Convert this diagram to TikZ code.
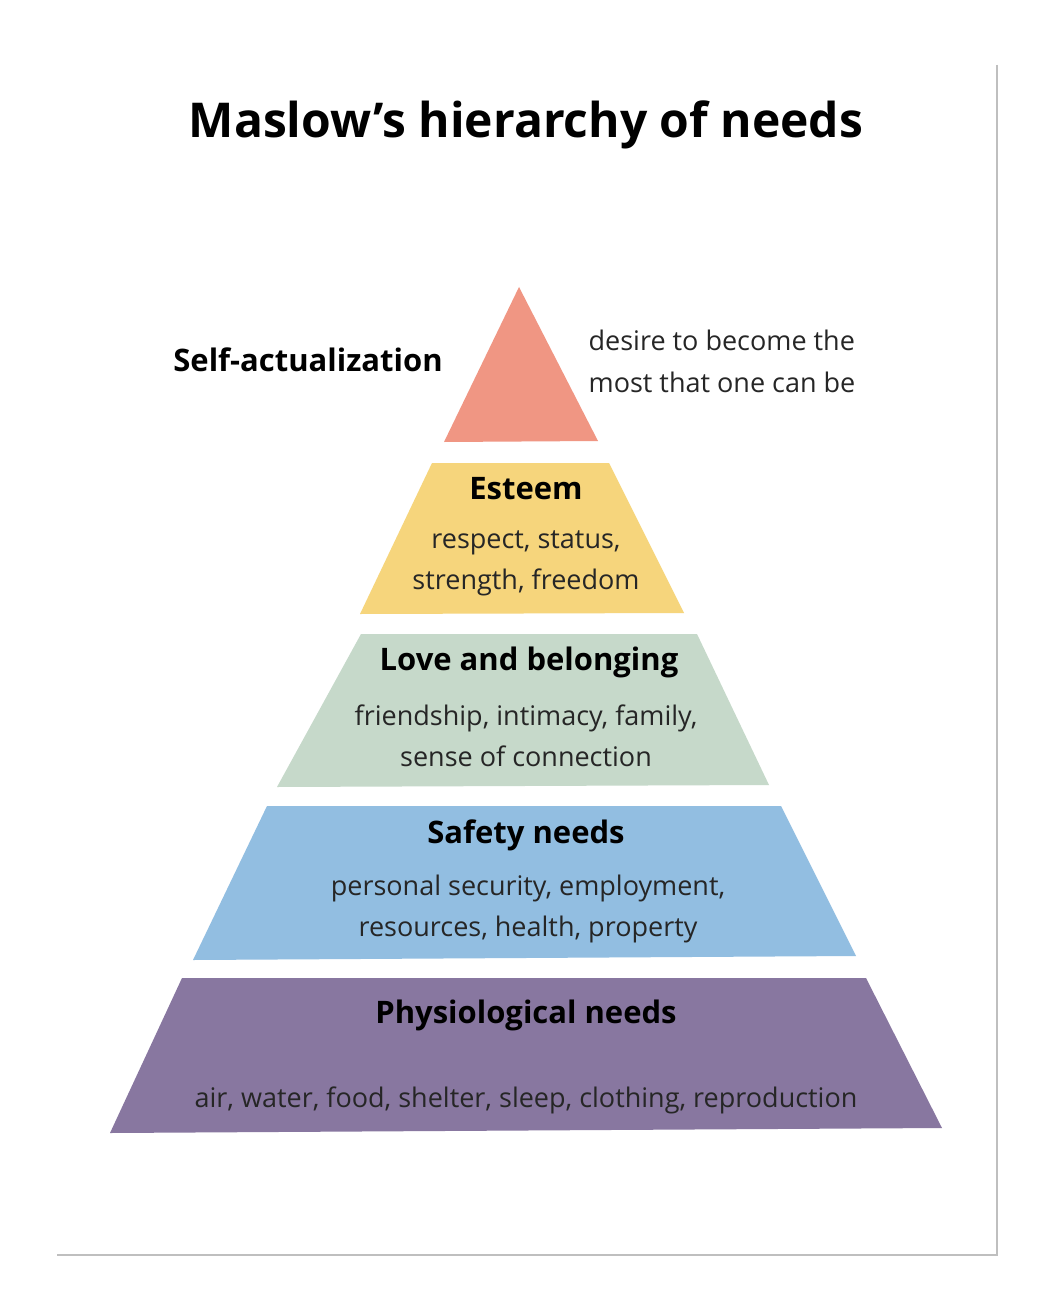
\documentclass[tikz,border=0pt]{standalone}
\usepackage{fontspec}
\setmainfont{Open Sans}
\begin{document}
\begin{tikzpicture}[x=1pt,y=-1pt,
  lvl/.style={draw=none},
  head/.style={font=\fontsize{31}{36}\selectfont\bfseries, text=black},
  body/.style={font=\fontsize{27}{41}\selectfont, text=black!85, align=center}]
\definecolor{cA}{HTML}{F09683}
\definecolor{cB}{HTML}{F6D57C}
\definecolor{cC}{HTML}{C6D9CA}
\definecolor{cD}{HTML}{92BEE1}
\definecolor{cE}{HTML}{8877A0}
\useasboundingbox (0,0) rectangle (1050,1313);
\fill[white] (0,0) rectangle (1050,1313);
\draw[black!25, line width=1.2] (997,65) -- (997,1255) -- (57,1255);
\node[font=\fontsize{48}{56}\selectfont\bfseries] (title) at (526,125) {Maslow's hierarchy of needs};
\fill[cA] (519,287) -- (598,441) -- (444,442) -- cycle;
\fill[cB] (432,463) -- (609,463) -- (684,613) -- (360,614) -- cycle;
\fill[cC] (361,634) -- (697,634) -- (769,785) -- (277,787) -- cycle;
\fill[cD] (267,806) -- (781,806) -- (856,956) -- (193,960) -- cycle;
\fill[cE] (182,978) -- (866,978) -- (942,1128) -- (110,1133) -- cycle;
\node[head] (sa) at (308,360) {Self-actualization};
\node[body, align=left, font=\fontsize{27}{42}\selectfont] (sat) at (722,361) {desire to become the\\most that one can be};
\node[head] (es) at (526,489) {Esteem};
\node[body] (est) at (526,563) {respect, status,\\strength, freedom};
\node[head] (lb) at (529,662) {Love and belonging};
\node[body] (lbt) at (526,736) {friendship, intimacy, family,\\sense of connection};
\node[head] (sn) at (526,835) {Safety needs};
\node[body] (snt) at (528,909) {personal security, employment,\\resources, health, property};
\node[head] (pn) at (526,1015) {Physiological needs};
\node[body] (pnt) at (526,1100) {air, water, food, shelter, sleep, clothing, reproduction};
\end{tikzpicture}
\end{document}
